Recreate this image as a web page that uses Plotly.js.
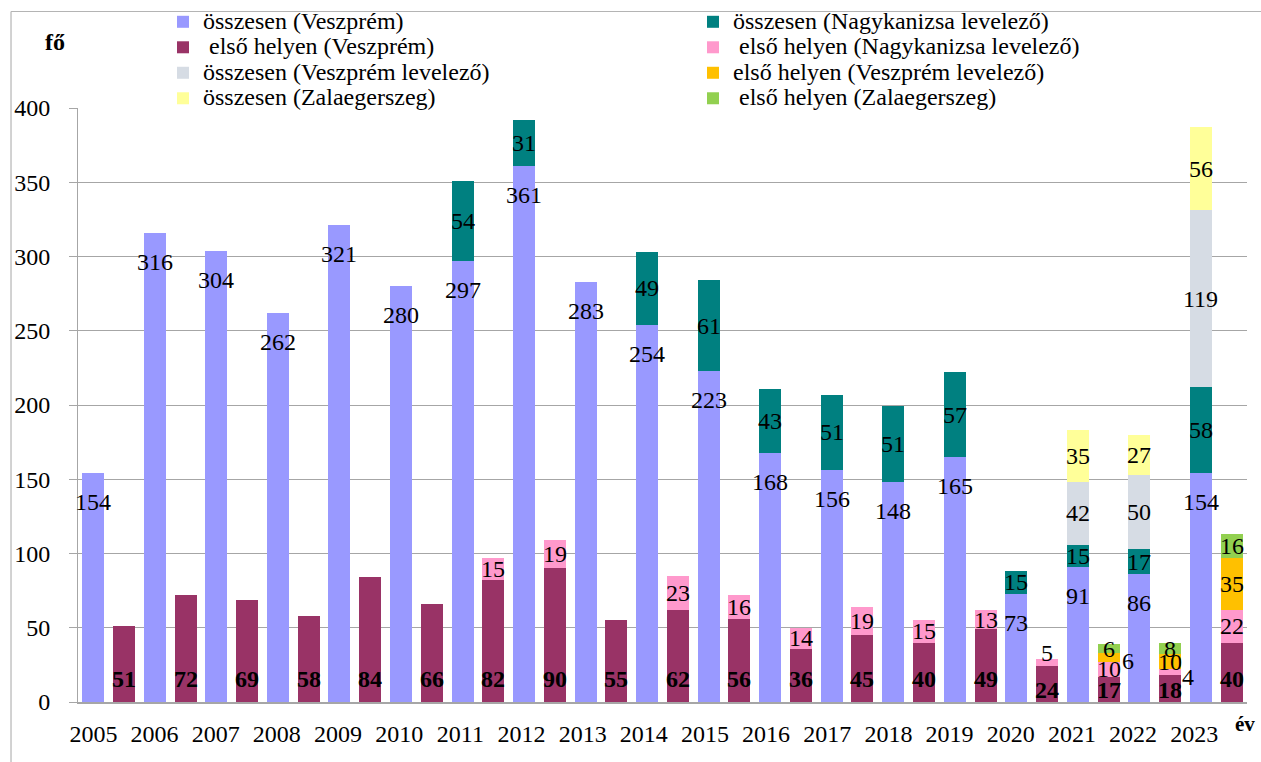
<!DOCTYPE html>
<html>
<head>
<meta charset="utf-8">
<script src="https://cdn.plot.ly/plotly-3.0.1.min.js"></script>
<style>html,body{margin:0;padding:0;background:#fff;}#chart{width:1261px;height:762px;}</style>
</head>
<body>
<div id="chart"></div>
<script>
// ---- data ----
const years = [2005,2006,2007,2008,2009,2010,2011,2012,2013,2014,2015,2016,2017,2018,2019,2020,2021,2022,2023];
const osszVeszprem      = [154,316,304,262,321,280,297,361,283,254,223,168,156,148,165,73,91,86,154];
const osszNagykanizsa   = [null,null,null,null,null,null,54,31,null,49,61,43,51,51,57,15,15,17,58];
const osszVeszpremLev   = [null,null,null,null,null,null,null,null,null,null,null,null,null,null,null,null,42,50,119];
const osszZala          = [null,null,null,null,null,null,null,null,null,null,null,null,null,null,null,null,35,27,56];
const elsoVeszprem      = [51,72,69,58,84,66,82,90,55,62,56,36,45,40,49,24,17,18,40];
const elsoNagykanizsa   = [null,null,null,null,null,null,15,19,null,23,16,14,19,15,13,5,10,4,22];
const elsoVeszpremLev   = [null,null,null,null,null,null,null,null,null,null,null,null,null,null,null,null,6,10,35];
const elsoZala          = [null,null,null,null,null,null,null,null,null,null,null,null,null,null,null,null,6,8,16];

// ---- layout helpers ----
const FONT = 'Liberation Serif';
const xTot = years.map((y, i) => 2 * i);
const xFirst = years.map((y, i) => 2 * i + 1);
const BW = 0.715;
const LEG = s => '<span style="font-size:24px">' + s + '</span>';

function bar(name, x, y, color) {
  return {
    type: 'bar', name: LEG(name), x: x, y: y,
    width: x.map(() => BW),
    marker: {color: color, line: {width: 0}},
    hoverinfo: 'skip'
  };
}

const traces = [
  bar('összesen (Veszprém)', xTot, osszVeszprem, '#9999FF'),
  bar('összesen (Nagykanizsa levelező)', xTot, osszNagykanizsa, '#008080'),
  bar('\u00a0első helyen (Veszprém)', xFirst, elsoVeszprem, '#993366'),
  bar('\u00a0első helyen (Nagykanizsa levelező)', xFirst, elsoNagykanizsa, '#FF99CC'),
  bar('összesen (Veszprém levelező)', xTot, osszVeszpremLev, '#D6DCE4'),
  bar('első helyen (Veszprém levelező)', xFirst, elsoVeszpremLev, '#FFC000'),
  bar('összesen (Zalaegerszeg)', xTot, osszZala, '#FFFF99'),
  bar('\u00a0első helyen (Zalaegerszeg)', xFirst, elsoZala, '#92D050')
];

// ---- data labels ----
const ann = [];
function lab(x, y, t, opts) {
  const a = {x: x, y: y, text: String(t), showarrow: false, xanchor: 'center', yanchor: 'middle',
    font: {family: FONT, size: 24, color: '#000'}, xref: 'x', yref: 'y'};
  Object.assign(a, opts || {});
  ann.push(a);
}
// special label nudges (year index, series key) -> [xshift, yshift]
const nudge = {'15:en': [0, 10], '16:evl': [19, -4], '17:en': [18, -5]};

years.forEach((yr, i) => {
  // total stack
  lab(xTot[i], osszVeszprem[i], osszVeszprem[i], {yshift: -29});
  let base = osszVeszprem[i];
  [osszNagykanizsa, osszVeszpremLev, osszZala].forEach(arr => {
    const v = arr[i];
    if (v != null) { lab(xTot[i], base + v / 2, v); base += v; }
  });
  // first-place stack
  const ev = elsoVeszprem[i];
  lab(xFirst[i], ev >= 30 ? 15.8 : 8.4, ev, {text: '<b>' + ev + '</b>'});
  let b2 = ev;
  [['en', elsoNagykanizsa], ['evl', elsoVeszpremLev], ['ez', elsoZala]].forEach(([k, arr]) => {
    const v = arr[i];
    if (v != null) {
      const n = nudge[i + ':' + k] || [0, 0];
      lab(xFirst[i], b2 + v / 2, v, {xshift: n[0], yshift: n[1]});
      b2 += v;
    }
  });
});

// axis unit labels
ann.push({xref: 'paper', yref: 'paper', x: -0.0197, y: 1.111, text: '<b>fő</b>', showarrow: false,
  font: {family: FONT, size: 24, color: '#000'}, xanchor: 'center', yanchor: 'middle'});
ann.push({xref: 'paper', yref: 'paper', x: 0.998, y: -0.037, text: '<b>év</b>', showarrow: false,
  font: {family: FONT, size: 21, color: '#000'}, xanchor: 'center', yanchor: 'middle'});

const layout = {
  width: 1261, height: 762,
  margin: {l: 78, r: 14, t: 108, b: 60, autoexpand: false},
  paper_bgcolor: '#fff', plot_bgcolor: '#fff',
  barmode: 'stack',
  font: {family: FONT, size: 24, color: '#000'},
  showlegend: true,
  legend: {
    orientation: 'h', x: 0.0727, xanchor: 'left', y: 1.175, yanchor: 'top',
    entrywidth: 485, entrywidthmode: 'pixels',
    font: {family: FONT, size: 17.3, color: '#000'},
    bgcolor: 'rgba(0,0,0,0)', traceorder: 'normal'
  },
  xaxis: {
    range: [-0.5, 37.5], tickmode: 'array',
    tickvals: years.map((y, i) => i * 1.988), ticktext: years.map(String),
    showgrid: false, zeroline: false, showline: true, linecolor: '#a6a6a6', linewidth: 1.5,
    ticks: '', tickfont: {family: FONT, size: 24, color: '#000'}, ticklabelstandoff: 10, fixedrange: true
  },
  yaxis: {
    range: [0, 400], dtick: 50, tick0: 0,
    showgrid: true, gridcolor: '#a6a6a6', gridwidth: 1,
    zeroline: false, showline: true, linecolor: '#a6a6a6', linewidth: 1,
    ticks: 'outside', ticklen: 8, tickcolor: '#a6a6a6', tickwidth: 1,
    tickfont: {family: FONT, size: 24, color: '#000'}, ticklabelstandoff: 14, fixedrange: true
  },
  annotations: ann,
  shapes: [
    {type: 'line', xref: 'paper', yref: 'paper', x0: -0.0573, x1: -0.0573, y0: 1.1625, y1: -0.12, line: {color: '#b4b4b4', width: 1.2}},
    {type: 'line', xref: 'paper', yref: 'paper', x0: -0.0573, x1: 1.02, y0: 1.1625, y1: 1.1625, line: {color: '#b4b4b4', width: 1.2}}
  ]
};

Plotly.newPlot('chart', traces, layout, {staticPlot: true, displayModeBar: false});
</script>
</body>
</html>
